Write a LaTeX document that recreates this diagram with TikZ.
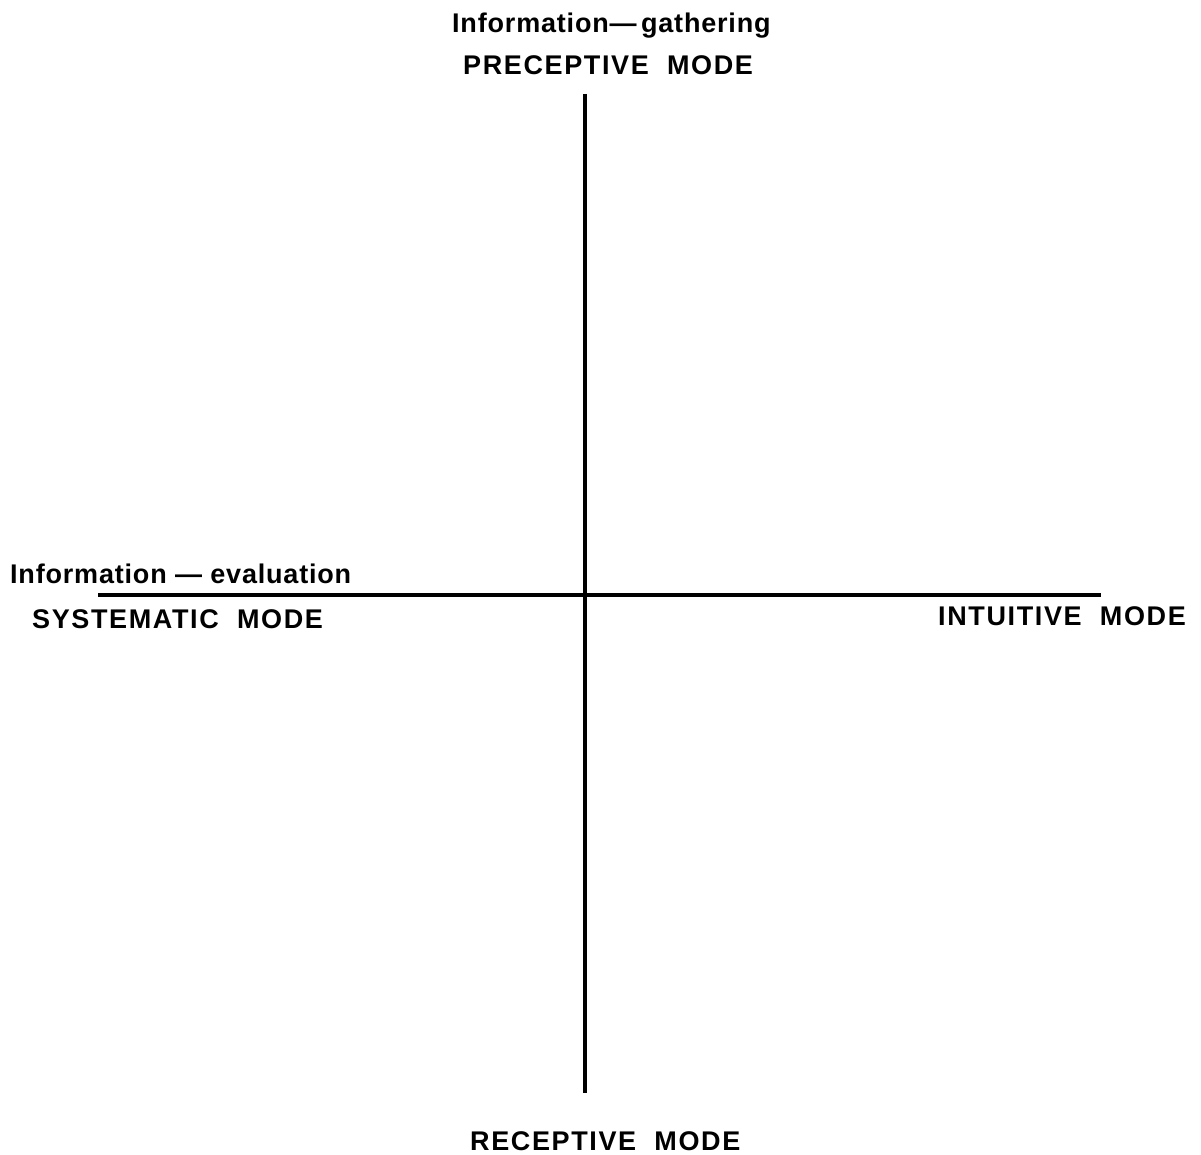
\documentclass[tikz,border=0pt]{standalone}
\usepackage{fontspec}
\setmainfont{Liberation Sans}
\newfontfamily\lblfont[LetterSpace=6]{Liberation Sans Bold}
\newfontfamily\lowfont[LetterSpace=3]{Liberation Sans Bold}
\tikzset{
  axis/.style={line width=3.3pt, black},
  lbl/.style={font=\lblfont\fontsize{27}{30}\selectfont, inner sep=0pt, anchor=base west},
  lowlbl/.style={font=\lowfont\fontsize{27}{30}\selectfont, inner sep=0pt, anchor=base west},
}
\begin{document}
\begin{tikzpicture}[x=1pt,y=-1pt]
\useasboundingbox (0,0) rectangle (1201,1155);
\fill[white] (0,0) rectangle (1201,1155);
\coordinate (vtop) at (585,94);
\coordinate (vbot) at (585,1093);
\coordinate (hleft) at (98,595);
\coordinate (hright) at (1101,595);
\draw[axis] (vtop) -- (vbot);
\draw[axis] (hleft) -- (hright);
\node[lowlbl] (gath) at (452,33) {Information—\,gathering};
\node[lbl] (prec) at (463,75) {PRECEPTIVE\ \ MODE};
\node[lowlbl] (eval) at (10,583) {Information — evaluation};
\node[lbl] (syst) at (32,628) {SYSTEMATIC\ \ MODE};
\node[lbl] (intu) at (938,625) {INTUITIVE\ \ MODE};
\node[lbl] (rece) at (470,1150) {RECEPTIVE\ \ MODE};
\end{tikzpicture}
\end{document}
